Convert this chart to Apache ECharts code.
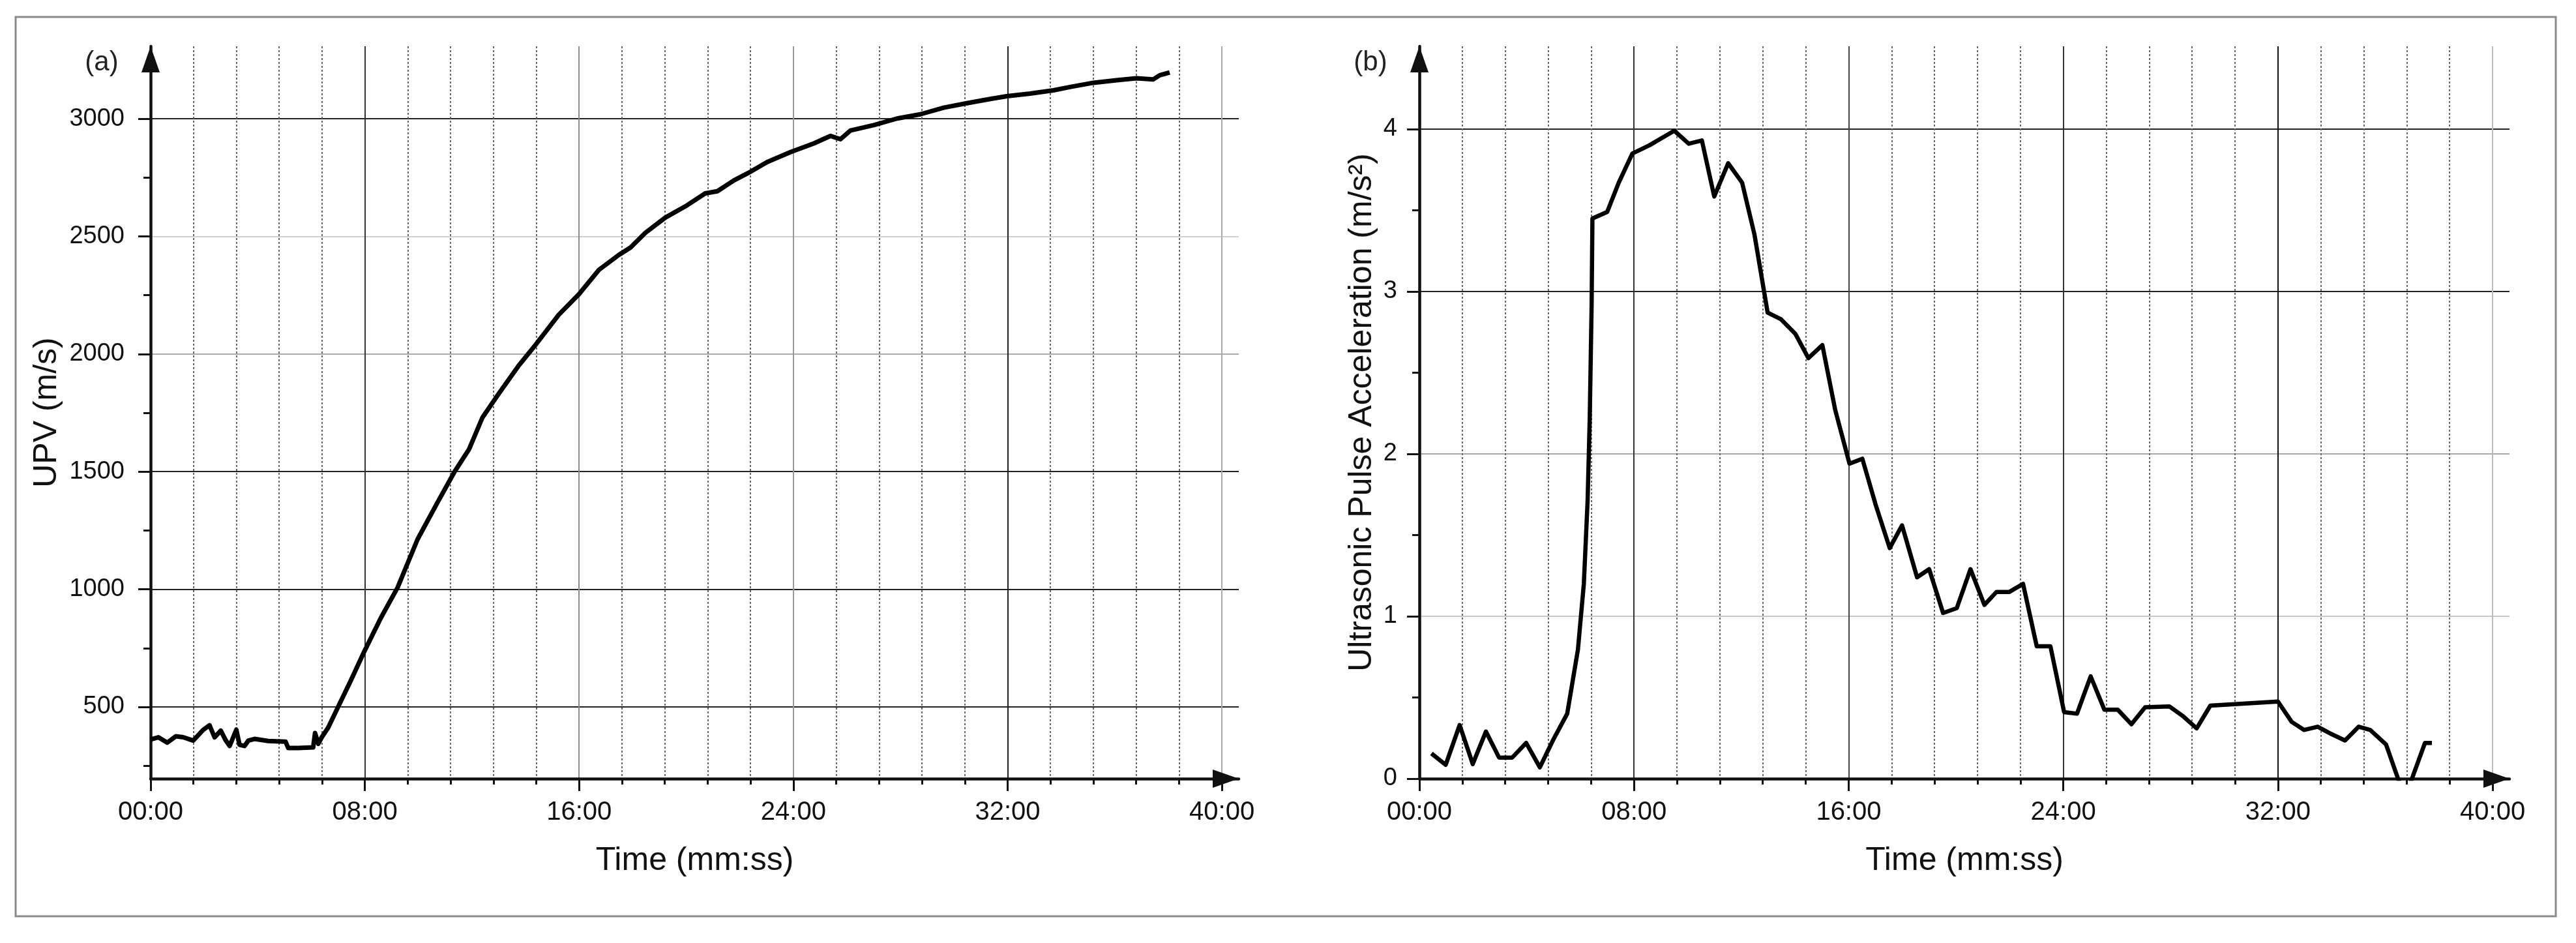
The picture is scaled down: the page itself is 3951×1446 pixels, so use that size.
<!DOCTYPE html>
<html>
<head>
<meta charset="utf-8">
<script src="https://cdn.jsdelivr.net/npm/echarts@6/dist/echarts.min.js"></script>
<style>
html,body{margin:0;padding:0;background:#fff;}
#c{width:3951px;height:1446px;}
</style>
</head>
<body>
<div id="c"></div>
<script>
// ---------- data (time in minutes) ----------
const timeA = [0.00,0.29,0.62,0.94,1.22,1.59,1.97,2.20,2.39,2.62,2.81,2.95,3.20,3.32,3.51,3.65,3.88,4.39,5.04,5.14,5.51,6.07,6.14,6.26,6.39,6.63,7.00,7.47,7.98,8.60,9.22,9.97,10.65,11.35,11.89,12.39,13.01,13.75,14.38,15.24,15.99,16.74,17.48,17.92,18.48,19.22,19.97,20.71,21.16,21.78,22.40,23.02,23.89,24.76,25.38,25.76,26.13,27.00,27.87,28.74,29.61,30.48,31.35,31.97,32.84,33.71,34.33,35.20,36.07,36.81,37.43,37.68,38.05];
const upv   = [362,371,348,375,371,357,403,422,371,399,357,334,403,339,334,357,364,355,352,325,325,328,389,343,371,412,500,611,736,879,1007,1213,1356,1500,1595,1730,1833,1952,2040,2167,2254,2358,2421,2453,2516,2580,2628,2683,2692,2738,2775,2816,2858,2895,2927,2913,2950,2973,3001,3019,3047,3066,3084,3096,3107,3121,3135,3153,3164,3172,3167,3185,3197];

const timeB = [0.45,0.98,1.50,1.99,2.48,2.97,3.46,3.98,4.49,4.99,5.51,5.91,6.13,6.27,6.35,6.42,6.45,7.00,7.43,7.94,8.57,9.50,10.04,10.53,10.99,11.51,12.03,12.49,12.98,13.47,14.01,14.50,15.02,15.50,16.03,16.51,17.00,17.53,17.99,18.55,19.00,19.52,20.03,20.54,21.06,21.51,21.99,22.50,23.01,23.52,24.03,24.51,25.02,25.53,26.03,26.54,27.05,27.95,28.46,28.97,29.48,32.00,32.51,32.97,33.48,33.99,34.50,35.01,35.44,36.03,36.73,37.48,37.74];
const accel = [0.155,0.085,0.33,0.09,0.29,0.13,0.13,0.22,0.07,0.24,0.40,0.795,1.20,1.71,2.22,2.92,3.45,3.49,3.67,3.85,3.90,3.99,3.91,3.93,3.585,3.79,3.67,3.35,2.87,2.83,2.74,2.59,2.67,2.27,1.94,1.97,1.69,1.42,1.56,1.24,1.29,1.02,1.05,1.29,1.07,1.15,1.15,1.20,0.815,0.815,0.41,0.40,0.63,0.425,0.425,0.335,0.44,0.445,0.385,0.31,0.45,0.475,0.35,0.30,0.32,0.275,0.235,0.32,0.30,0.21,-0.12,0.22,0.22];

// ---------- ticks ----------
const xMajor = [0,8,16,24,32,40];
const xMinor = [1.6,3.2,4.8,6.4,9.6,11.2,12.8,14.4,17.6,19.2,20.8,22.4,25.6,27.2,28.8,30.4,33.6,35.2,36.8,38.4];
const yMajorA = [500,1000,1500,2000,2500,3000];
const yMinorA = [250,750,1250,1750,2250,2750];
const yMajorB = [0,1,2,3,4];
const yMinorB = [0.5,1.5,2.5,3.5];

const FONT = 'Liberation Sans';
const INK = '#111';

function mmss(v){
  const total = Math.round(v*60);
  const m = Math.floor(total/60), s = total%60;
  return String(m).padStart(2,'0') + ':' + String(s).padStart(2,'0');
}
function plain(v){ return String(v); }

const chart = echarts.init(document.getElementById('c'), null, {renderer:'canvas'});

function mainX(gridIndex, splitColors, nameText){
  return {
    type:'value', gridIndex, min:0, max:40.63, position:'bottom',
    axisLine:{show:true, onZero:false, symbol:['none','triangle'], symbolSize:[28,40], symbolOffset:[0,-20],
      lineStyle:{color:INK, width:4.5}},
    axisTick:{show:true, inside:false, length:19, customValues:xMajor, lineStyle:{color:INK, width:3}},
    axisLabel:{show:true, customValues:xMajor, margin:32, formatter:mmss,
      fontFamily:FONT, fontSize:40, color:INK},
    splitLine:{show:true, lineStyle:{color:splitColors, width:2, type:'solid'}},
    minorTick:{show:false}, minorSplitLine:{show:false},
    name:nameText, nameLocation:'middle', nameGap:101,
    nameTextStyle:{fontFamily:FONT, fontSize:50, color:INK}
  };
}
function minorX(gridIndex){
  return {
    type:'value', gridIndex, min:0, max:40.63, position:'bottom',
    axisLine:{show:false, onZero:false},
    axisTick:{show:true, inside:false, length:9, customValues:xMinor, lineStyle:{color:INK, width:3}},
    axisLabel:{show:false, customValues:xMinor},
    splitLine:{show:true, lineStyle:{color:'#666', width:2, type:[3,3]}}
  };
}
function mainY(gridIndex, min, max, vals, splitColors, nameText, margin, gap){
  return {
    type:'value', gridIndex, min, max, position:'left',
    axisLine:{show:true, onZero:false, symbol:['none','triangle'], symbolSize:[28,40], symbolOffset:[0,-20],
      lineStyle:{color:INK, width:4.5}},
    axisTick:{show:true, inside:false, length:19, customValues:vals, lineStyle:{color:INK, width:3}},
    axisLabel:{show:true, customValues:vals, margin, formatter:plain, fontFamily:FONT, fontSize:38, color:INK},
    splitLine:{show:true, lineStyle:{color:splitColors, width:2}},
    name:nameText, nameLocation:'middle', nameGap:gap,
    nameTextStyle:{fontFamily:FONT, fontSize:50, color:INK}
  };
}
function minorY(gridIndex, min, max, vals){
  return {
    type:'value', gridIndex, min, max, position:'left',
    axisLine:{show:false, onZero:false},
    axisTick:{show:true, inside:false, length:11, customValues:vals, lineStyle:{color:INK, width:3}},
    axisLabel:{show:false, customValues:vals},
    splitLine:{show:false}
  };
}

const option = {
  animation:false,
  backgroundColor:'#fff',
  grid:[
    {left:231, top:71, width:1669, height:1123, outerBoundsMode:'none', containLabel:false},
    {left:2177, top:71, width:1672, height:1123, outerBoundsMode:'none', containLabel:false}
  ],
  xAxis:[
    mainX(0, ['#333','#333','#8a8a8a','#999','#222','#aaa'], 'Time (mm:ss)'),
    minorX(0),
    mainX(1, ['#333','#333','#444','#333','#111','#bbb'], 'Time (mm:ss)'),
    minorX(1)
  ],
  yAxis:[
    mainY(0, 195, 3308, yMajorA, ['#222','#222','#222','#aaa','#d0d0d0','#222'], 'UPV (m/s)', 40, 134),
    minorY(0, 195, 3308, yMinorA),
    mainY(1, 0, 4.51, yMajorB, ['#333','#c8c8c8','#aaa','#222','#222'], 'Ultrasonic Pulse Acceleration (m/s\u00B2)', 34, 63),
    minorY(1, 0, 4.51, yMinorB)
  ],
  series:[
    {type:'line', xAxisIndex:0, yAxisIndex:0, data:timeA.map((t,i)=>[t,upv[i]]),
      showSymbol:false, symbol:'none', clip:true, z:5,
      lineStyle:{color:'#000', width:7, join:'round'}},
    {type:'line', xAxisIndex:2, yAxisIndex:2, data:timeB.map((t,i)=>[t,accel[i]]),
      showSymbol:false, symbol:'none', clip:true, z:5,
      lineStyle:{color:'#000', width:6.5, join:'round'}}
  ],
  graphic:[
    {type:'rect', shape:{x:24, y:26, width:3896, height:1379}, style:{fill:'none', stroke:'#8a8a8a', lineWidth:3}, z:-1},
    {type:'text', x:156, y:96, style:{text:'(a)', font:'42px "Liberation Sans"', fill:'#222', align:'center', verticalAlign:'middle'}},
    {type:'text', x:2102, y:96, style:{text:'(b)', font:'42px "Liberation Sans"', fill:'#222', align:'center', verticalAlign:'middle'}}
  ]
};
chart.setOption(option);
</script>
</body>
</html>
